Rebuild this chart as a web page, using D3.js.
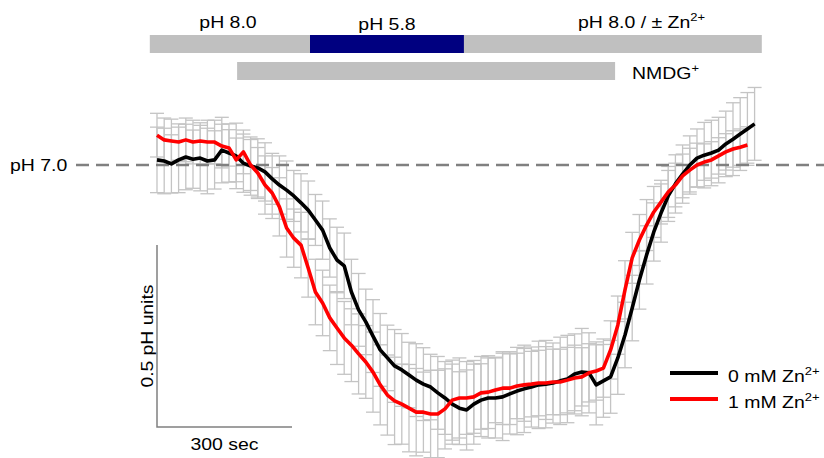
<!DOCTYPE html>
<html>
<head>
<meta charset="utf-8">
<script src="https://cdn.jsdelivr.net/npm/d3@7"></script>
<style>
  html, body { margin: 0; padding: 0; background: #fff; }
  svg text { font-family: "Liberation Sans", Arial, sans-serif; fill: #000; }
</style>
</head>
<body>
<div id="chart"></div>
<script>
// time step of the recording (sec)
var step = 16

// mean pH traces
var ph0mM = [7.014, 7.011, 7.003, 7.014, 7.022, 7.016, 7.019, 7.011, 7.014, 7.041,
  7.033, 7.025, 7.005, 6.997, 6.992, 6.981, 6.962, 6.945, 6.931, 6.915,
  6.896, 6.876, 6.849, 6.821, 6.772, 6.739, 6.723, 6.651, 6.602, 6.569,
  6.530, 6.492, 6.470, 6.448, 6.437, 6.423, 6.409, 6.398, 6.390, 6.374,
  6.360, 6.343, 6.332, 6.327, 6.343, 6.354, 6.360, 6.360, 6.363, 6.371,
  6.379, 6.385, 6.390, 6.396, 6.398, 6.401, 6.407, 6.412, 6.426, 6.431,
  6.429, 6.396, 6.407, 6.418, 6.470, 6.533, 6.607, 6.684, 6.753, 6.816,
  6.868, 6.915, 6.948, 6.975, 7.000, 7.019, 7.027, 7.033, 7.041, 7.058,
  7.071, 7.085, 7.099, 7.113]

var ph1mM = [7.082, 7.069, 7.066, 7.063, 7.069, 7.063, 7.066, 7.063, 7.063, 7.052,
  7.047, 7.014, 7.036, 7.000, 6.978, 6.945, 6.923, 6.885, 6.827, 6.799,
  6.780, 6.717, 6.651, 6.621, 6.580, 6.552, 6.525, 6.505, 6.481, 6.459,
  6.431, 6.396, 6.368, 6.352, 6.343, 6.332, 6.321, 6.321, 6.316, 6.316,
  6.330, 6.354, 6.360, 6.360, 6.363, 6.374, 6.376, 6.382, 6.387, 6.387,
  6.393, 6.396, 6.398, 6.401, 6.401, 6.404, 6.404, 6.409, 6.415, 6.418,
  6.429, 6.434, 6.442, 6.492, 6.560, 6.657, 6.745, 6.794, 6.835, 6.871,
  6.898, 6.926, 6.945, 6.970, 6.986, 7.000, 7.008, 7.014, 7.025, 7.036,
  7.044, 7.049, 7.055]

// standard errors (pH units)
var se0mM = [0.09, 0.09, 0.08, 0.09, 0.09, 0.08, 0.09, 0.09, 0.08, 0.09,
  0.08, 0.09, 0.08, 0.08, 0.08, 0.08, 0.07, 0.08, 0.08, 0.07,
  0.08, 0.08, 0.07, 0.08, 0.08, 0.09, 0.09, 0.09, 0.10, 0.09,
  0.10, 0.10, 0.09, 0.10, 0.10, 0.09, 0.10, 0.10, 0.09, 0.10,
  0.10, 0.11, 0.10, 0.11, 0.11, 0.10, 0.11, 0.11, 0.12, 0.11,
  0.12, 0.12, 0.11, 0.12, 0.12, 0.11, 0.12, 0.12, 0.11, 0.12,
  0.11, 0.11, 0.10, 0.10, 0.10, 0.09, 0.09, 0.08, 0.08, 0.08,
  0.08, 0.07, 0.08, 0.08, 0.08, 0.08, 0.09, 0.09, 0.09, 0.09,
  0.10, 0.10, 0.10, 0.10]

var se1mM = [0.06, 0.06, 0.06, 0.05, 0.06, 0.06, 0.05, 0.06, 0.06, 0.06,
  0.05, 0.06, 0.06, 0.07, 0.07, 0.08, 0.07, 0.08, 0.08, 0.08,
  0.09, 0.08, 0.09, 0.09, 0.09, 0.10, 0.10, 0.10, 0.11, 0.10,
  0.11, 0.11, 0.11, 0.12, 0.11, 0.12, 0.12, 0.11, 0.12, 0.12,
  0.11, 0.11, 0.11, 0.10, 0.10, 0.10, 0.10, 0.09, 0.10, 0.10,
  0.09, 0.10, 0.09, 0.09, 0.10, 0.09, 0.09, 0.09, 0.09, 0.08,
  0.08, 0.08, 0.08, 0.08, 0.08, 0.08, 0.07, 0.07, 0.07, 0.07,
  0.06, 0.07, 0.06, 0.06, 0.06, 0.06, 0.05, 0.05, 0.05, 0.05,
  0.05, 0.05, 0.05]

// solution bars (sec)
var bathBar = [-16, 1344]
var acidBar = [340, 682]
var nmdgBar = [178, 1018]

var seriesNames = ['0 mM Zn', '1 mM Zn']
var seriesColors = ['#000000', '#ff0000']

var refPH = 7.0
var scaleBarSec = 300
var scaleBarPH = [6.78, 6.28]

var width = 824
var height = 458

var svg = d3.select('#chart').append('svg')
  .attr('width', width)
  .attr('height', height)

var x = d3.scaleLinear().domain([0, 300]).range([157, 292])
var y = d3.scaleLinear().domain([7.0, 6.5]).range([165, 347])

function toPoints (vals, errs) {
  return vals.map(function (v, i) {
    return { t: i * step, v: v, e: errs[i] }
  })
}

var series = [toPoints(ph0mM, se0mM), toPoints(ph1mM, se1mM)]

// horizontally stretched text like the original figure
function label (px, py, parts, anchor) {
  var g = svg.append('g')
    .attr('transform', 'translate(' + px + ',' + py + ') scale(1.18,1)')
  var t = g.append('text')
    .attr('text-anchor', anchor || 'start')
    .style('font-size', '16.5px')
  parts.forEach(function (p) {
    var ts = t.append('tspan').text(p.s)
    if (p.sup) {
      ts.style('font-size', '11px').attr('dy', -7)
    }
  })
  return g
}

// top solution bars
var barH = 18
svg.append('rect')
  .attr('x', x(bathBar[0])).attr('y', 35)
  .attr('width', x(bathBar[1]) - x(bathBar[0])).attr('height', barH)
  .attr('fill', '#c0c0c0')
svg.append('rect')
  .attr('x', x(acidBar[0])).attr('y', 35)
  .attr('width', x(acidBar[1]) - x(acidBar[0])).attr('height', barH)
  .attr('fill', '#000080')
svg.append('rect')
  .attr('x', x(nmdgBar[0])).attr('y', 62)
  .attr('width', x(nmdgBar[1]) - x(nmdgBar[0])).attr('height', barH)
  .attr('fill', '#c0c0c0')

label(228, 28, [{ s: 'pH 8.0' }], 'middle')
label(387, 30, [{ s: 'pH 5.8' }], 'middle')
label(578, 28, [{ s: 'pH 8.0 / \u00b1 Zn' }, { s: '2+', sup: true }])
label(632, 79, [{ s: 'NMDG' }, { s: '+', sup: true }])

// error bars
var cap = 7
series.forEach(function (s) {
  var g = svg.append('g')
    .attr('stroke', '#c4c4c4')
    .attr('stroke-width', 1.3)
  s.forEach(function (d) {
    var cx = x(d.t)
    var y1 = y(d.v + d.e)
    var y2 = y(d.v - d.e)
    g.append('line').attr('x1', cx).attr('x2', cx).attr('y1', y1).attr('y2', y2)
    g.append('line').attr('x1', cx - cap).attr('x2', cx + cap).attr('y1', y1).attr('y2', y1)
    g.append('line').attr('x1', cx - cap).attr('x2', cx + cap).attr('y1', y2).attr('y2', y2)
  })
})

// pH 7.0 reference
svg.append('line')
  .attr('x1', 76).attr('x2', width)
  .attr('y1', y(refPH)).attr('y2', y(refPH))
  .attr('stroke', '#808080')
  .attr('stroke-width', 2.6)
  .attr('stroke-dasharray', '13,7')
label(10, 171, [{ s: 'pH 7.0' }])

// traces
var line = d3.line()
  .x(function (d) { return x(d.t) })
  .y(function (d) { return y(d.v) })

series.forEach(function (s, i) {
  svg.append('path')
    .datum(s)
    .attr('fill', 'none')
    .attr('stroke', seriesColors[i])
    .attr('stroke-width', 3.6)
    .attr('stroke-linejoin', 'round')
    .attr('d', line)
})

// scale bars
svg.append('path')
  .attr('fill', 'none')
  .attr('stroke', '#808080')
  .attr('stroke-width', 1.5)
  .attr('d', 'M' + x(0) + ',' + y(scaleBarPH[0]) +
    'V' + y(scaleBarPH[1]) + 'H' + x(scaleBarSec))
label((x(0) + x(scaleBarSec)) / 2, 450, [{ s: '300 sec' }], 'middle')
svg.append('text')
  .attr('transform', 'translate(153,' + y((scaleBarPH[0] + scaleBarPH[1]) / 2) + ') rotate(-90)')
  .attr('text-anchor', 'middle')
  .attr('textLength', 103)
  .attr('lengthAdjust', 'spacingAndGlyphs')
  .style('font-size', '16.5px')
  .text('0.5 pH units')

// legend
seriesNames.forEach(function (n, i) {
  var ly = 373 + i * 26
  svg.append('line')
    .attr('x1', 670).attr('x2', 718)
    .attr('y1', ly).attr('y2', ly)
    .attr('stroke', seriesColors[i])
    .attr('stroke-width', 4)
  label(728, ly + 9, [{ s: n }, { s: '2+', sup: true }])
})
</script>
</body>
</html>
